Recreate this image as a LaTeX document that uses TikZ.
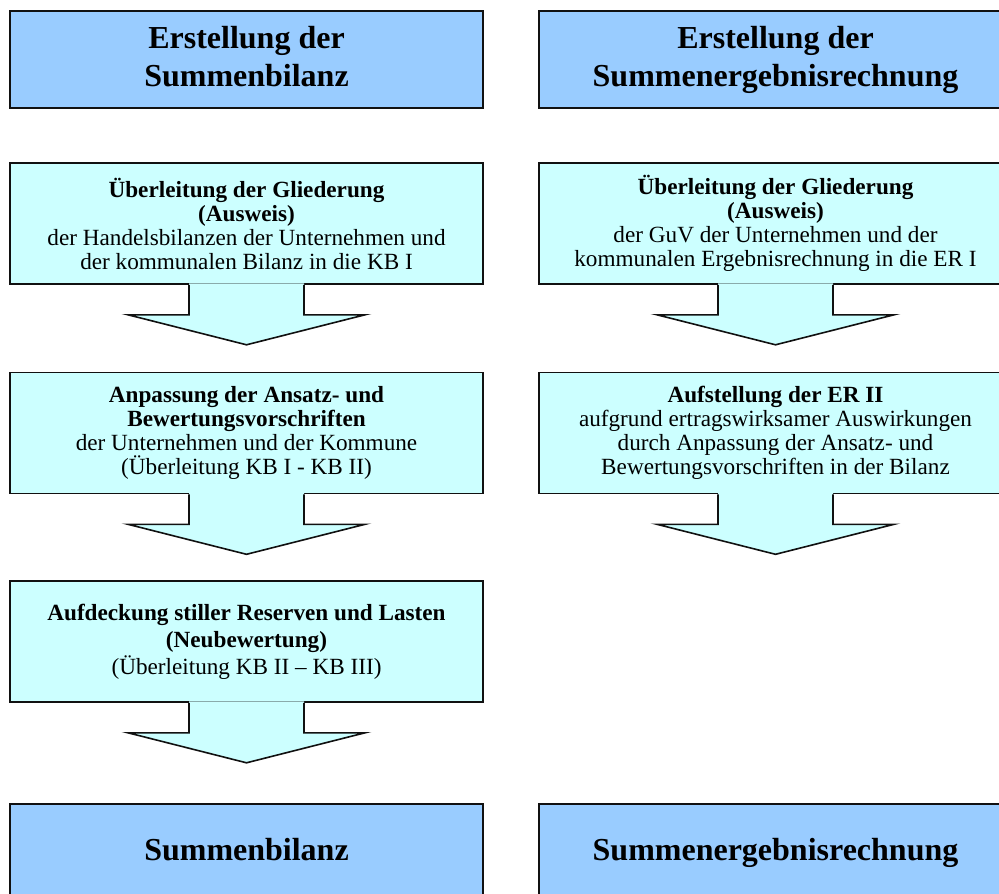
\documentclass[tikz,border=0pt]{standalone}
\usepackage{fontspec}
\setmainfont{Liberation Serif}
\usepackage{tikz}
\usepackage{xcolor}
\usetikzlibrary{calc}
\definecolor{titleblue}{HTML}{99CCFF}
\definecolor{stepcyan}{HTML}{CCFFFF}
\definecolor{ink}{HTML}{111111}
\tikzset{
  titlebox/.style={draw=ink,fill=titleblue,line width=0.8pt,align=center,
                   minimum width=236.5pt,minimum height=48.5pt,inner sep=0pt,
                   font=\fontsize{16}{19}\selectfont\bfseries},
  stepbox/.style={draw=ink,fill=stepcyan,line width=0.8pt,align=center,
                  minimum width=236.5pt,minimum height=60.5pt,inner sep=0pt,
                  font=\fontsize{11.6}{12}\selectfont},
  blockfill/.style={fill=stepcyan},
  blockline/.style={draw=ink,line width=0.8pt,line join=miter}
}

\begin{document}
\begin{tikzpicture}[x=0.5pt,y=-0.5pt]
    \clip (0,0) rectangle (999,893);
    \fill[white] (0,0) rectangle (999,893);

    % Summenbilanz
    \node[titlebox] (ltitle) at (246.5,59.5)
      {\strut Erstellung der\\Summenbilanz\strut};
    \node[stepbox] (lgl) at (246.5,223.5)
      {\textbf{Überleitung der Gliederung}\\\textbf{(Ausweis)}\\
       der Handelsbilanzen der Unternehmen und\\
       der kommunalen Bilanz in die KB I};
    \node[stepbox] (lans) at (246.5,433)
      {\textbf{Anpassung der Ansatz- und}\\\textbf{Bewertungsvorschriften}\\
       der Unternehmen und der Kommune\\(Überleitung KB I - KB II)};
    \node[stepbox] (lauf) at (246.5,641.5)
      {\textbf{Aufdeckung stiller Reserven und Lasten}\\[1.5pt]
       \textbf{(Neubewertung)}\\[1.5pt]
       (Überleitung KB II – KB III)};
    \node[titlebox] (lend) at (246.5,852.5) {Summenbilanz\strut};

    % Summenergebnisrechnung
    \node[titlebox] (rtitle) at (775.5,59.5)
      {\strut Erstellung der\\Summenergebnisrechnung\strut};
    \node[stepbox] (rgl) at (775.5,223.5)
      {\textbf{Überleitung der Gliederung}\\\textbf{(Ausweis)}\\
       der GuV der Unternehmen und der\\
       kommunalen Ergebnisrechnung in die ER I};
    \node[stepbox] (rer) at (775.5,433)
      {\textbf{Aufstellung der ER II}\\
       aufgrund ertragswirksamer Auswirkungen\\
       durch Anpassung der Ansatz- und\\
       Bewertungsvorschriften in der Bilanz};
    \node[titlebox] (rend) at (775.5,852.5) {Summenergebnisrechnung\strut};

    % Blockpfeile
    \foreach \n in {lgl,lans,lauf,rgl,rer}{
      \fill[blockfill] ($(\n.south)+(-57.5,-1.5)$) -- ++(0,31.5) -- ++(-61,0)
        -- ++(118.5,30) -- ++(118.5,-30) -- ++(-61,0) -- ++(0,-31.5) -- cycle;
      \draw[blockline] ($(\n.south)+(-57.5,0)$) -- ++(0,30) -- ++(-61,0)
        -- ++(118.5,30) -- ++(118.5,-30) -- ++(-61,0) -- ++(0,-30);
    }
\end{tikzpicture}
\end{document}
